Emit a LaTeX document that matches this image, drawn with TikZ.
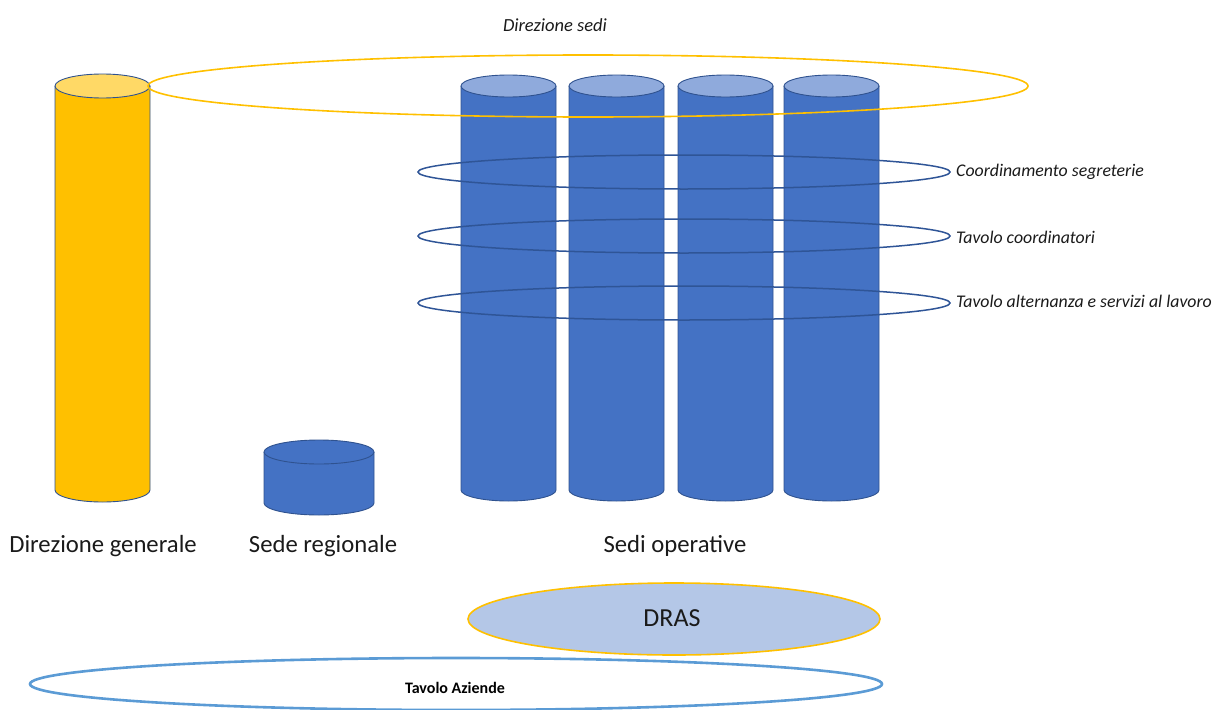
\documentclass[tikz,border=0pt]{standalone}
\usepackage{fontspec}
\setmainfont{Carlito}
\definecolor{ybody}{HTML}{FFC000}
\definecolor{ytop}{HTML}{FFD966}
\definecolor{bbody}{HTML}{4472C4}
\definecolor{btop}{HTML}{8FAADC}
\definecolor{outl}{HTML}{2F528F}
\definecolor{ringc}{HTML}{2F5597}
\definecolor{drasfill}{HTML}{B4C7E7}
\definecolor{azc}{HTML}{5B9BD5}
\definecolor{txt}{HTML}{1A1A1A}
\tikzset{
  cylline/.style={draw=outl,line width=0.9pt},
  ring/.style={draw=ringc,line width=1.5pt},
  ringlabel/.style={anchor=west,font=\fontsize{17.8}{21}\selectfont\itshape,text=txt,inner sep=0pt},
  biglabel/.style={anchor=center,font=\fontsize{24.7}{29}\selectfont,text=txt,inner sep=0pt},
}
\newcommand\mycyl[7]{%
  \pgfmathsetmacro\cx{(#1+#2)/2}%
  \pgfmathsetmacro\rx{(#2-#1)/2}%
  \fill[#6] (#1,#3) -- (#1,#4) arc[start angle=180,end angle=0,x radius=\rx,y radius=#5] -- (#2,#3) -- cycle;
  \draw[cylline] (#1,#3) -- (#1,#4) arc[start angle=180,end angle=0,x radius=\rx,y radius=#5] -- (#2,#3);
  \draw[cylline,fill=#7] (\cx,#3) ellipse[x radius=\rx,y radius=#5];
}
\begin{document}
\begin{tikzpicture}[x=1pt,y=-1pt]
\useasboundingbox (0,0) rectangle (1217,709);
% cylinders
\mycyl{55}{150}{86}{490}{12}{ybody}{ytop}
\mycyl{264}{374}{452}{503}{12}{bbody}{bbody}
\mycyl{461}{556}{86}{490}{11}{bbody}{btop}
\mycyl{569}{664}{86}{490}{11}{bbody}{btop}
\mycyl{678}{773}{86}{490}{11}{bbody}{btop}
\mycyl{784}{879}{86}{490}{11}{bbody}{btop}
% Direzione sedi ring
\draw[draw=ybody,line width=1.6pt] (588,86) ellipse[x radius=440,y radius=31];
\node[anchor=center,font=\fontsize{18.5}{22}\selectfont\itshape,text=txt,inner sep=0pt] (dsedi) at (555,25) {Direzione sedi};
% rings
\draw[ring] (684,172) ellipse[x radius=266,y radius=17];
\draw[ring] (684,236) ellipse[x radius=266,y radius=17];
\draw[ring] (684,303) ellipse[x radius=266,y radius=17];
\node[ringlabel] (coord) at (956,172) {Coordinamento segreterie};
\node[ringlabel] (tcoord) at (956,237) {Tavolo coordinatori};
\node[ringlabel] (talt) at (956,301) {Tavolo alternanza e servizi al lavoro};
% bottom labels
\node[biglabel] (dg) at (103,546) {Direzione generale};
\node[biglabel] (sr) at (323,546) {Sede regionale};
\node[biglabel] (so) at (675,546) {Sedi operative};
% DRAS
\draw[draw=ybody,fill=drasfill,line width=1.6pt] (674,619) ellipse[x radius=206,y radius=36];
\node[font=\fontsize{26}{30}\selectfont,text=txt,inner sep=0pt] (dras) at (672,618) {DRAS};
% Tavolo Aziende
\draw[draw=azc,line width=2.6pt] (456,684) ellipse[x radius=426,y radius=26];
\node[font=\fontsize{16}{19}\selectfont\bfseries,text=black,inner sep=0pt] (taz) at (455,688) {Tavolo Aziende};
\end{tikzpicture}
\end{document}
